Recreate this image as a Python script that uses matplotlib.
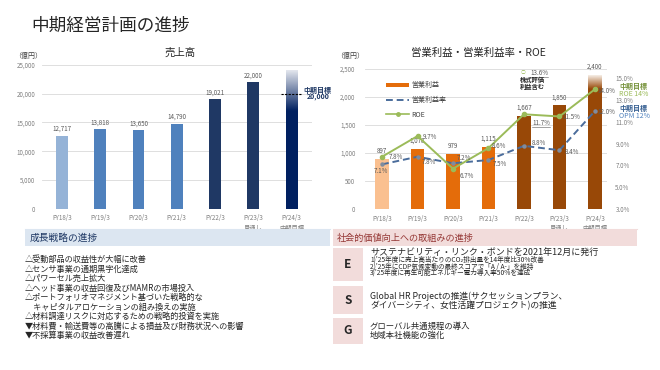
import matplotlib
matplotlib.use('Agg')
import matplotlib.pyplot as plt
import numpy as np
from matplotlib.transforms import Affine2D
from matplotlib.patches import Rectangle, Patch
from matplotlib.lines import Line2D
from matplotlib.colors import LinearSegmentedColormap
from matplotlib.ticker import FuncFormatter

plt.rcParams['font.family'] = ['Noto Sans CJK JP', 'DejaVu Sans']

# ---------------- data ----------------
years = ['FY18/3', 'FY19/3', 'FY20/3', 'FY21/3', 'FY22/3', 'FY23/3\n見通し', 'FY24/3\n中期目標']
sales = [12717, 13818, 13650, 14790, 19021, 22000, 24000]
sales_labels = ['12,717', '13,818', '13,650', '14,790', '19,021', '22,000', '']
sales_target = 20000
op_income = [897, 1078, 979, 1115, 1667, 1850, 2400]
op_labels = ['897', '1,078', '979', '1,115', '1,667', '1,850', '2,400']
opm = [7.1, 7.8, 7.2, 7.5, 8.8, 8.4, 12.0]
roe = [7.8, 9.7, 6.7, 8.6, 11.7, 11.5, 14.0]

growth_items = [
    '△受動部品の収益性が大幅に改善',
    '△センサ事業の通期黒字化達成',
    '△パワーセル売上拡大',
    '△ヘッド事業の収益回復及びMAMRの市場投入',
    '△ポートフォリオマネジメント基づいた戦略的な',
    '　キャピタルアロケーションの組み換えの実施',
    '△材料調達リスクに対応するための戦略的投資を実施',
    '▼材料費・輸送費等の高騰による損益及び財務状況への影響',
    '▼不採算事業の収益改善遅れ',
]
e_main = 'サステナビリティ・リンク・ボンドを2021年12月に発行'
e_sub = [
    "1)'25年度に売上高当たりのCO₂排出量を14年度比30%改善",
    "2)'25年にCDP気候変動の最終スコアで「A / A-」を維持",
    "3)'25年度に再生可能エネルギー電力導入率50%を達成",
]
s_lines = ['Global HR Projectの推進(サクセッションプラン、', 'ダイバーシティ、女性活躍プロジェクト)の推進']
g_lines = ['グローバル共通規程の導入', '地域本社機能の強化']

# ---------------- figure ----------------
W, H = 660, 370
fig = plt.figure(figsize=(6.6, 3.7), dpi=100)
fig.patch.set_facecolor('white')
px = Affine2D().scale(1 / W, -1 / H).translate(0, 1) + fig.transFigure


def axes_px(x0, y0, x1, y1):
    return fig.add_axes([x0 / W, 1 - y1 / H, (x1 - x0) / W, (y1 - y0) / H])


def style_axis(ax):
    for s in ax.spines.values():
        s.set_visible(False)
    ax.tick_params(length=0, labelsize=4.5, labelcolor='#7F7F7F')
    ax.grid(axis='y', color='#D9D9D9', lw=0.6)
    ax.set_axisbelow(True)


def gradient_bar(ax, bar, color, lo, start='white'):
    cmap = LinearSegmentedColormap.from_list('g', [start, color])
    grad = np.linspace(0, 1, 256).reshape(-1, 1)
    x0 = bar.get_x()
    hi = bar.get_height()
    xl, yl = ax.get_xlim(), ax.get_ylim()
    ax.imshow(grad, cmap=cmap, extent=[x0, x0 + bar.get_width(), lo, hi],
              aspect='auto', origin='upper', zorder=bar.get_zorder() + 0.1)
    ax.set_xlim(xl)
    ax.set_ylim(yl)


GRAY = '#595959'

# title
fig.text(31, 26, '中期経営計画の進捗', transform=px, fontsize=12.7, va='center', ha='left', color='#262626')

# ---------------- sales chart ----------------
ax1 = axes_px(42, 65, 312, 208.7)
style_axis(ax1)
x = np.arange(len(years))
sales_colors = ['#95B3D7', '#4F81BD', '#4F81BD', '#4F81BD', '#1F3864', '#1F3864', '#002060']
bars = ax1.bar(x, sales, width=0.31, color=sales_colors, zorder=2)
ax1.set_xlim(-0.52, 6.53)
ax1.set_ylim(0, 25000)
ax1.set_yticks(range(0, 25001, 5000))
ax1.yaxis.set_major_formatter(FuncFormatter(lambda v, p: f'{int(v):,}'))
ax1.set_xticks(x)
ax1.set_xticklabels(years, linespacing=1.2)
ax1.tick_params(axis='x', pad=4)
ax1.tick_params(axis='y', pad=5)
for b, lab in zip(bars, sales_labels):
    if lab:
        ax1.annotate(lab, (b.get_x() + b.get_width() / 2, b.get_height()), xytext=(0, 2),
                     textcoords='offset points', ha='center', va='bottom', fontsize=4.5, color=GRAY)
gradient_bar(ax1, bars[-1], '#002060', 17000, start='#E4E7EE')
ax1.hlines(sales_target, 6 - 0.27, 6 + 0.27, colors='black', linestyles=(0, (2, 1.2)), lw=0.8, zorder=4)
fig.text(303, 90, '中期目標', transform=px, fontsize=5, fontweight='bold', color='#1F3864', ha='left', va='center')
fig.text(307, 97, f'{sales_target:,}', transform=px, fontsize=5, fontweight='bold', color='#1F3864', ha='left', va='center')
fig.text(180, 53, '売上高', transform=px, fontsize=7.5, ha='center', va='center', color='#262626')
fig.text(14, 56, '（億円）', transform=px, fontsize=5, ha='left', va='center', color='#404040')

# ---------------- operating income chart ----------------
ax2 = axes_px(365, 69, 607, 209)
style_axis(ax2)
op_colors = ['#FAC090', '#E46C0A', '#E46C0A', '#E46C0A', '#984807', '#984807', '#984807']
obars = ax2.bar(x, op_income, width=0.37, color=op_colors, zorder=2)
ax2.set_xlim(-0.48, 6.34)
ax2.set_ylim(0, 2500)
ax2.set_yticks(range(0, 2501, 500))
ax2.yaxis.set_major_formatter(FuncFormatter(lambda v, p: f'{int(v):,}'))
ax2.set_xticks(x)
ax2.set_xticklabels(years, linespacing=1.2)
ax2.tick_params(axis='x', pad=4)
ax2.tick_params(axis='y', pad=7)
for b, lab in zip(obars, op_labels):
    ax2.annotate(lab, (b.get_x() + b.get_width() / 2, b.get_height()), xytext=(0, 3),
                 textcoords='offset points', ha='center', va='bottom', fontsize=4.5, color=GRAY)
gradient_bar(ax2, obars[-1], '#984807', 2150, start='#F7EFE8')

ax3 = ax2.twinx()
for s in ax3.spines.values():
    s.set_visible(False)
ax3.set_ylim(3, 15.86)
ax3.set_yticks(range(3, 16, 2))
ax3.yaxis.set_major_formatter(FuncFormatter(lambda v, p: f'{v:.1f}%'))
ax3.tick_params(length=0, labelsize=4.5, labelcolor='#7F7F7F', pad=6)
OPM_C = '#4A6C9B'
ROE_C = '#9BBB59'
ax3.plot(x, opm, color=OPM_C, lw=1.4, ls=(0, (3.5, 2)), marker='o', ms=2.2,
         mfc='#7F8C9F', mec='#7F8C9F', zorder=3)
ax3.plot(x, roe, color=ROE_C, lw=1.4, marker='o', ms=3, zorder=4)

roe_off = [(5, 0), (4, -0.7), (5, -5), (2.5, 1.4), (5.8, -6.5), (1.8, -0.7), (1.5, -1.4)]
opm_off = [(-6, -5), (3.2, -3.8), (3, 3.6), (3.2, -2.9), (5.8, 2.2), (4, -1.4), (1.5, -0.7)]
underline_texts = []
for i in range(len(years)):
    t = ax3.annotate(f'{roe[i]:.1f}%', (x[i], roe[i]), xytext=roe_off[i], textcoords='offset points',
                     ha='left', va='center', fontsize=4.5, color=GRAY, zorder=6)
    if i == 4:
        underline_texts.append(t)
    ax3.annotate(f'{opm[i]:.1f}%', (x[i], opm[i]), xytext=opm_off[i], textcoords='offset points',
                 ha='left', va='center', fontsize=4.5, color=GRAY, zorder=6)

leg_handles = [Patch(facecolor='#E46C0A', edgecolor='none'),
               Line2D([], [], color=OPM_C, lw=1.4, ls=(0, (3.5, 2))),
               Line2D([], [], color=ROE_C, lw=1.2, marker='o', ms=2.5)]
leg = ax3.legend(leg_handles, ['営業利益', '営業利益率', 'ROE'], loc='upper left',
                 bbox_to_anchor=(383 / W, 1 - 78 / H), bbox_transform=fig.transFigure,
                 frameon=False, fontsize=5, handlelength=3.2, handleheight=0.6,
                 labelspacing=0.95, handletextpad=0.4, borderpad=0)
for t in leg.get_texts():
    t.set_color('#404040')

fig.text(478, 53, '営業利益・営業利益率・ROE', transform=px, fontsize=7.5, ha='center', va='center', color='#262626')
fig.text(336, 56, '（億円）', transform=px, fontsize=5, ha='left', va='center', color='#404040')

# 13.6% note
fig.text(523, 73, '○', transform=px, fontsize=3.5, ha='center', va='center', color='#9BBB59')
note = fig.text(530, 73, '13.6%', transform=px, fontsize=4.5, ha='left', va='center', color=GRAY)
underline_texts.append(note)
fig.text(520, 79.5, '株式評価', transform=px, fontsize=4.5, fontweight='bold', ha='left', va='center', color='#262626')
fig.text(520, 86, '利益含む', transform=px, fontsize=4.5, fontweight='bold', ha='left', va='center', color='#262626')

# target notes right
fig.text(619, 86.5, '中期目標', transform=px, fontsize=5, fontweight='bold', ha='left', va='center', color='#77933C')
fig.text(619, 93.5, 'ROE 14%', transform=px, fontsize=5, ha='left', va='center', color='#9BBB59')
fig.text(619, 108.5, '中期目標', transform=px, fontsize=5, fontweight='bold', ha='left', va='center', color='#376092')
fig.text(619, 116, 'OPM 12%', transform=px, fontsize=5, ha='left', va='center', color='#4F81BD')

# separator lines under charts
fig.add_artist(Line2D([25, 330], [228.5, 228.5], transform=px, color='#DCE6F1', lw=0.8))
fig.add_artist(Line2D([333, 637], [228.5, 228.5], transform=px, color='#F2DCDB', lw=0.8))

# ---------------- bottom left ----------------
fig.add_artist(Rectangle((25, 230), 305, 16, transform=px, facecolor='#DCE6F1', edgecolor='none'))
fig.text(30, 238, '成長戦略の進捗', transform=px, fontsize=7, ha='left', va='center', color='#1F3864')
y0 = 259.5
for i, item in enumerate(growth_items):
    fig.text(25, y0 + i * 9.55, item, transform=px, fontsize=5.9, ha='left', va='center', color='#262626')

# ---------------- bottom right ----------------
fig.add_artist(Rectangle((333, 230), 304, 16, transform=px, facecolor='#F2DCDB', edgecolor='none'))
fig.text(337, 238, '社会的価値向上への取組みの進捗', transform=px, fontsize=6.6, ha='left', va='center', color='#953735')
for (ytop, ybot, letter) in [(248, 281, 'E'), (286, 314, 'S'), (318, 344, 'G')]:
    fig.add_artist(Rectangle((333, ytop), 30, ybot - ytop, transform=px, facecolor='#F2DCDB', edgecolor='none'))
    fig.text(348, (ytop + ybot) / 2, letter, transform=px, fontsize=8.5, fontweight='bold',
             ha='center', va='center', color='#262626')
fig.text(370, 252, e_main, transform=px, fontsize=6.5, ha='left', va='center', color='#262626')
for i, s in enumerate(e_sub):
    fig.text(370, 259.8 + i * 6.6, s, transform=px, fontsize=4.8, ha='left', va='center', color='#262626')
for i, s in enumerate(s_lines):
    fig.text(370, 296.7 + i * 9.3, s, transform=px, fontsize=6.3, ha='left', va='center', color='#262626')
for i, s in enumerate(g_lines):
    fig.text(370, 326.7 + i * 8.5, s, transform=px, fontsize=6.0, ha='left', va='center', color='#262626')

# underlines
fig.canvas.draw()
r = fig.canvas.get_renderer()
for t in underline_texts:
    bb = t.get_window_extent(r)
    fig.add_artist(Line2D([bb.x0 / W, bb.x1 / W], [(bb.y0 + 0.3) / H, (bb.y0 + 0.3) / H],
                          transform=fig.transFigure, color=GRAY, lw=0.4))

fig.savefig('out.png', dpi=100)
